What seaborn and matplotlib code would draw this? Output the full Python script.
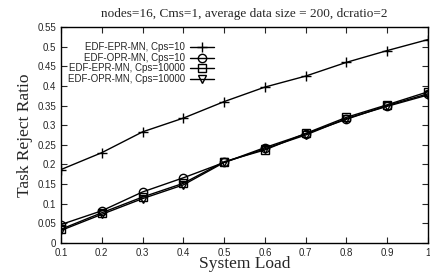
import numpy as np
import pandas as pd
import matplotlib
matplotlib.use("Agg")
import matplotlib.pyplot as plt
import seaborn as sns

load = [0.1, 0.2, 0.3, 0.4, 0.5, 0.6, 0.7, 0.8, 0.9, 1.0]
epr_cps10 = [0.187, 0.230, 0.283, 0.318, 0.360, 0.397, 0.425, 0.460, 0.490, 0.518]
opr_cps10 = [0.047, 0.082, 0.130, 0.166, 0.205, 0.243, 0.278, 0.315, 0.350, 0.380]
epr_cps10000 = [0.035, 0.077, 0.117, 0.152, 0.207, 0.237, 0.279, 0.320, 0.352, 0.385]
opr_cps10000 = [0.032, 0.073, 0.113, 0.148, 0.205, 0.240, 0.275, 0.317, 0.348, 0.377]

series = ["EDF-EPR-MN, Cps=10", "EDF-OPR-MN, Cps=10",
          "EDF-EPR-MN, Cps=10000", "EDF-OPR-MN, Cps=10000"]
values = [epr_cps10, opr_cps10, epr_cps10000, opr_cps10000]
markers = ["+", "o", "s", "v"]

sns.set_style("ticks")
plt.rcParams['font.family'] = ['Liberation Sans', 'DejaVu Sans']

fig = plt.figure(figsize=(4.3, 2.75), dpi=100)
ax = fig.add_axes([61 / 430, 32 / 275, 367 / 430, 216 / 275])

for name, vals, mk in zip(series, values, markers):
    df = pd.DataFrame({"load": load, "ratio": vals})
    sns.lineplot(data=df, x="load", y="ratio", color="black", marker=mk,
                 markersize=7 if mk == "+" else 6, markerfacecolor="none",
                 markeredgecolor="black", markeredgewidth=1.0,
                 linewidth=1.0, label=name, ax=ax)

ax.set_xlim(0.1, 1.0)
ax.set_ylim(0, 0.55)
ax.set_xticks(np.arange(0.1, 1.01, 0.1))
ax.set_xticklabels(["0.1", "0.2", "0.3", "0.4", "0.5", "0.6", "0.7", "0.8", "0.9", "1"])
ax.set_yticks(np.arange(0, 0.551, 0.05))
ax.set_yticklabels(["0", "0.05", "0.1", "0.15", "0.2", "0.25", "0.3", "0.35",
                    "0.4", "0.45", "0.5", "0.55"])
ax.tick_params(direction="in", top=True, right=True, labelsize=7, length=4, width=0.8)
for sp in ax.spines.values():
    sp.set_visible(True)
    sp.set_linewidth(1.0)
    sp.set_color("black")

serif = ['Liberation Serif', 'DejaVu Serif']
ax.set_xlabel("System Load", fontsize=12.5, family=serif, labelpad=-1)
ax.set_ylabel("Task Reject Ratio", fontsize=12.5, family=serif, labelpad=3)
ax.set_title("nodes=16, Cms=1, average data size = 200, dcratio=2",
             fontsize=9.5, family=serif, pad=7)

leg = ax.legend(loc="upper left", bbox_to_anchor=(0.0, 0.96), frameon=False,
                markerfirst=False, fontsize=7, handlelength=2.5,
                labelspacing=0.05, borderaxespad=0.3, handletextpad=0.5)

fig.savefig("out.png", dpi=100)
